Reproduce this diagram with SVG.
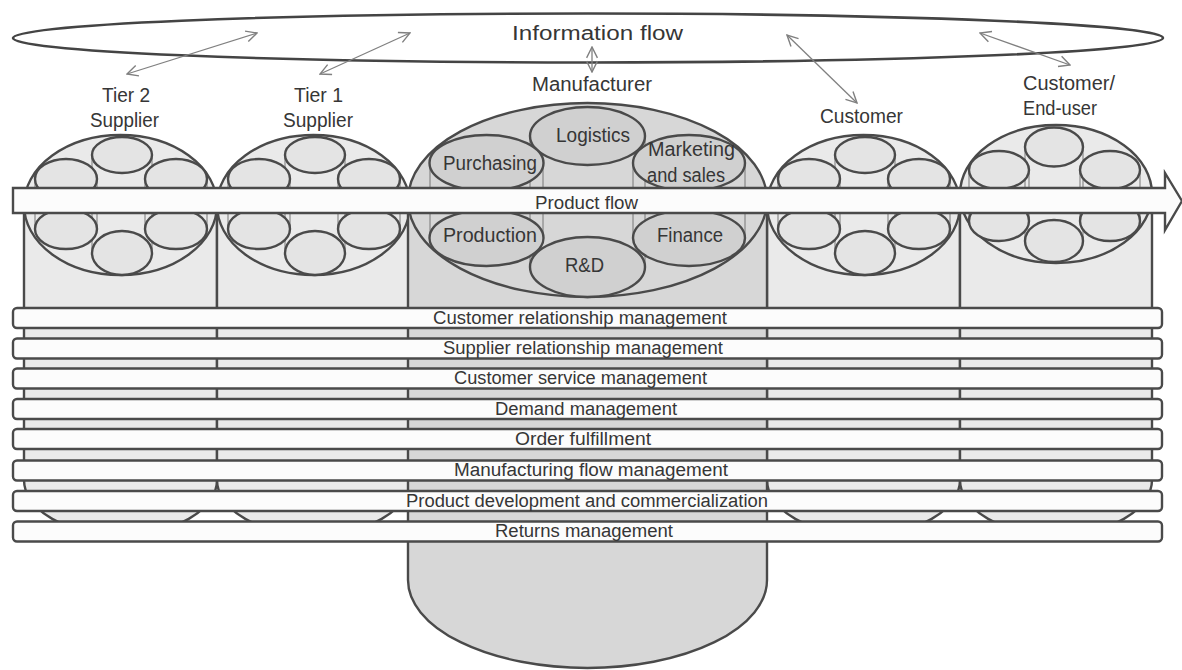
<svg xmlns="http://www.w3.org/2000/svg" width="1182" height="670" viewBox="0 0 1182 670">
<defs>
<style>
.lbl{font-family:"Liberation Sans",Arial,sans-serif;fill:#363636;text-anchor:middle;font-size:19.5px}
.bl{font-family:"Liberation Sans",Arial,sans-serif;fill:#363636;text-anchor:middle;font-size:18px}
.col{fill:#eaeaea;stroke:#4a4a4a;stroke-width:2.4}
.big{fill:#eaeaea;stroke:#4a4a4a;stroke-width:2.4}
.sm{fill:#e4e4e4;stroke:#4a4a4a;stroke-width:2.4}
.mcol{fill:#d7d7d7;stroke:#4a4a4a;stroke-width:2.4}
.mbig{fill:#d7d7d7;stroke:#4a4a4a;stroke-width:2.4}
.msm{fill:#d0d0d0;stroke:#4a4a4a;stroke-width:2.4}
.thin{stroke:#777;stroke-width:1;fill:none}
.bar{fill:#fcfcfc;stroke:#4a4a4a;stroke-width:2.4}
.info{stroke:#808080;stroke-width:1.3;fill:none;marker-start:url(#ah);marker-end:url(#ah)}
</style>
<marker id="ah" viewBox="0 0 12 12" refX="11" refY="6" markerWidth="13" markerHeight="13" markerUnits="userSpaceOnUse" orient="auto-start-reverse">
<path d="M1,1 L11,6 L1,11" fill="none" stroke="#808080" stroke-width="1.3"/>
</marker>
</defs>
<rect width="1182" height="670" fill="#ffffff"/>

<g id="information-flow">
<ellipse cx="588" cy="38" rx="575" ry="24.5" fill="#ffffff" stroke="#444" stroke-width="2.6"/>
<text class="lbl" x="597.5" y="40" font-size="23" textLength="171" lengthAdjust="spacingAndGlyphs">Information flow</text>
</g>

<g id="tier2-supplier">
<path class="col" d="M24,205 L24,480 A96.5,55 0 0 0 217,480 L217,205"/>
<ellipse class="big" cx="120.5" cy="205" rx="96.5" ry="70"/>
<path class="thin" d="M35,179V229M97,179V229M145,179V229M207,179V229M92,155V253M152,155V253"/>
<ellipse class="sm" cx="122" cy="155" rx="30" ry="18"/>
<ellipse class="sm" cx="66" cy="179" rx="31" ry="20"/>
<ellipse class="sm" cx="176" cy="179" rx="31" ry="20"/>
<ellipse class="sm" cx="66" cy="229" rx="31" ry="20"/>
<ellipse class="sm" cx="176" cy="229" rx="31" ry="20"/>
<ellipse class="sm" cx="122" cy="253" rx="30" ry="22"/>
<text class="lbl" x="126" y="102" textLength="48" lengthAdjust="spacingAndGlyphs">Tier 2</text>
<text class="lbl" x="124.5" y="127" textLength="69" lengthAdjust="spacingAndGlyphs">Supplier</text>
</g>

<g id="tier1-supplier">
<path class="col" d="M217,205 L217,480 A96.5,55 0 0 0 410,480 L410,205"/>
<ellipse class="big" cx="313.5" cy="205" rx="96.5" ry="70"/>
<path class="thin" d="M228,179V229M290,179V229M338,179V229M400,179V229M285,155V253M345,155V253"/>
<ellipse class="sm" cx="315" cy="155" rx="30" ry="18"/>
<ellipse class="sm" cx="259" cy="179" rx="31" ry="20"/>
<ellipse class="sm" cx="369" cy="179" rx="31" ry="20"/>
<ellipse class="sm" cx="259" cy="229" rx="31" ry="20"/>
<ellipse class="sm" cx="369" cy="229" rx="31" ry="20"/>
<ellipse class="sm" cx="315" cy="253" rx="30" ry="22"/>
<text class="lbl" x="318.5" y="102" textLength="49" lengthAdjust="spacingAndGlyphs">Tier 1</text>
<text class="lbl" x="318" y="127" textLength="70" lengthAdjust="spacingAndGlyphs">Supplier</text>
</g>

<g id="customer">
<path class="col" d="M767,205 L767,480 A96.5,55 0 0 0 960,480 L960,205"/>
<ellipse class="big" cx="863.5" cy="205" rx="96.5" ry="70"/>
<path class="thin" d="M778,179V229M840,179V229M888,179V229M950,179V229M835,155V253M895,155V253"/>
<ellipse class="sm" cx="865" cy="155" rx="30" ry="18"/>
<ellipse class="sm" cx="809" cy="179" rx="31" ry="20"/>
<ellipse class="sm" cx="919" cy="179" rx="31" ry="20"/>
<ellipse class="sm" cx="809" cy="229" rx="31" ry="20"/>
<ellipse class="sm" cx="919" cy="229" rx="31" ry="20"/>
<ellipse class="sm" cx="865" cy="253" rx="30" ry="22"/>
<text class="lbl" x="861.5" y="123" textLength="83" lengthAdjust="spacingAndGlyphs">Customer</text>
</g>

<g id="end-user">
<path class="col" d="M960,194 L960,480 A96,55 0 0 0 1152,480 L1152,194"/>
<ellipse class="big" cx="1056" cy="194" rx="96" ry="69"/>
<path class="thin" d="M969,170V221M1029,170V221M1080,170V221M1140,170V221M1025,147V241M1083,147V241"/>
<ellipse class="sm" cx="1054" cy="147" rx="29" ry="19.5"/>
<ellipse class="sm" cx="999" cy="170" rx="30" ry="19"/>
<ellipse class="sm" cx="1110" cy="170" rx="30" ry="19"/>
<ellipse class="sm" cx="999" cy="221" rx="30" ry="20"/>
<ellipse class="sm" cx="1110" cy="221" rx="30" ry="20"/>
<ellipse class="sm" cx="1054" cy="241" rx="29" ry="21"/>
<text class="lbl" x="1023" y="90" style="text-anchor:start" textLength="92" lengthAdjust="spacingAndGlyphs">Customer/</text>
<text class="lbl" x="1023" y="115" style="text-anchor:start" textLength="74" lengthAdjust="spacingAndGlyphs">End-user</text>
</g>

<g id="manufacturer">
<path class="mcol" d="M408,200 L408,580 A179.5,88 0 0 0 767,580 L767,200"/>
<ellipse class="mbig" cx="587.5" cy="200" rx="179.5" ry="97"/>
<path class="thin" d="M430,163V238M543,163V238M633,163V238M745,163V238M530,136V267M645,136V267"/>
<ellipse class="msm" cx="587.5" cy="136" rx="57.5" ry="29"/>
<ellipse class="msm" cx="486.5" cy="163" rx="57" ry="28"/>
<ellipse class="msm" cx="689" cy="163" rx="56" ry="28"/>
<ellipse class="msm" cx="486.5" cy="238" rx="57" ry="28"/>
<ellipse class="msm" cx="689" cy="238" rx="56" ry="28"/>
<ellipse class="msm" cx="587.5" cy="267" rx="57.5" ry="30"/>
<text class="lbl" x="592" y="91" textLength="120" lengthAdjust="spacingAndGlyphs">Manufacturer</text>
<text class="lbl" x="593" y="142" textLength="74" lengthAdjust="spacingAndGlyphs">Logistics</text>
<text class="lbl" x="490" y="170" textLength="94" lengthAdjust="spacingAndGlyphs">Purchasing</text>
<text class="lbl" x="691.5" y="156" textLength="87" lengthAdjust="spacingAndGlyphs">Marketing</text>
<text class="lbl" x="686" y="182" textLength="78" lengthAdjust="spacingAndGlyphs">and sales</text>
<text class="lbl" x="490" y="242" textLength="94" lengthAdjust="spacingAndGlyphs">Production</text>
<text class="lbl" x="690" y="242" textLength="66" lengthAdjust="spacingAndGlyphs">Finance</text>
<text class="lbl" x="584.5" y="272" textLength="39" lengthAdjust="spacingAndGlyphs">R&amp;D</text>
</g>

<g id="product-flow">
<path d="M13,188 L1165,188 L1165,173 L1182,201 L1165,230 L1165,213 L13,213 Z" fill="#fcfcfc" stroke="#4a4a4a" stroke-width="2.4" stroke-linejoin="miter"/>
<text class="bl" x="586.5" y="209" textLength="103" lengthAdjust="spacingAndGlyphs">Product flow</text>
</g>

<g id="processes">
<g id="p-crm"><rect class="bar" x="13" y="308" width="1149" height="20" rx="4"/><text class="bl" x="580" y="323.5" textLength="294" lengthAdjust="spacingAndGlyphs">Customer relationship management</text></g>
<g id="p-srm"><rect class="bar" x="13" y="338.5" width="1149" height="20" rx="4"/><text class="bl" x="583" y="354" textLength="280" lengthAdjust="spacingAndGlyphs">Supplier relationship management</text></g>
<g id="p-csm"><rect class="bar" x="13" y="368.5" width="1149" height="20" rx="4"/><text class="bl" x="580.5" y="384" textLength="253" lengthAdjust="spacingAndGlyphs">Customer service management</text></g>
<g id="p-dm"><rect class="bar" x="13" y="399" width="1149" height="20" rx="4"/><text class="bl" x="586" y="414.5" textLength="182" lengthAdjust="spacingAndGlyphs">Demand management</text></g>
<g id="p-of"><rect class="bar" x="13" y="429" width="1149" height="20" rx="4"/><text class="bl" x="583" y="444.5" textLength="136" lengthAdjust="spacingAndGlyphs">Order fulfillment</text></g>
<g id="p-mfm"><rect class="bar" x="13" y="460.5" width="1149" height="20" rx="4"/><text class="bl" x="591" y="476" textLength="274" lengthAdjust="spacingAndGlyphs">Manufacturing flow management</text></g>
<g id="p-pdc"><rect class="bar" x="13" y="491" width="1149" height="20" rx="4"/><text class="bl" x="587" y="506.5" textLength="362" lengthAdjust="spacingAndGlyphs">Product development and commercialization</text></g>
<g id="p-rm"><rect class="bar" x="13" y="521.5" width="1149" height="20" rx="4"/><text class="bl" x="584" y="536.5" textLength="178" lengthAdjust="spacingAndGlyphs">Returns management</text></g>
</g>

<g id="connectors">
<line class="info" x1="127" y1="74" x2="257" y2="33"/>
<line class="info" x1="320" y1="74" x2="410" y2="33"/>
<line class="info" x1="592" y1="72" x2="592" y2="47"/>
<line class="info" x1="857" y1="103" x2="787" y2="35"/>
<line class="info" x1="1070" y1="65" x2="980" y2="33"/>
</g>
</svg>
